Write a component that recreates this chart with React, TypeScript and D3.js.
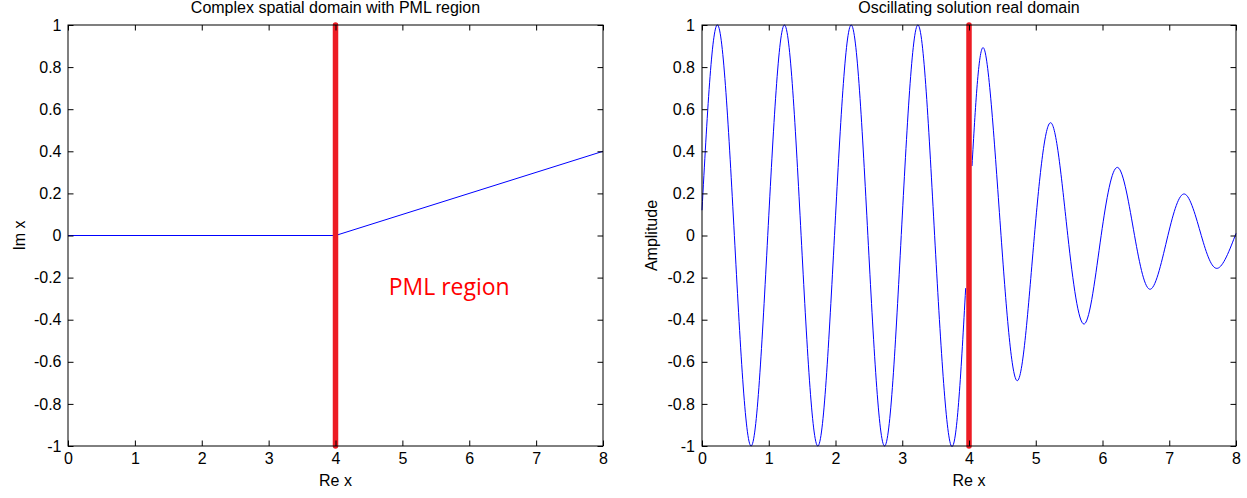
import React, { useEffect, useRef } from "react";
import * as d3 from "d3";

// ---- data ----
const xTicks = [0, 1, 2, 3, 4, 5, 6, 7, 8];
const yTicks = [-1, -0.8, -0.6, -0.4, -0.2, 0, 0.2, 0.4, 0.6, 0.8, 1];
const pmlBoundary = 4;

// left panel: complex stretched coordinate
const reX = [0, 4, 8];
const imX = [0, 0, 0.4];

// right panel: oscillating solution (extrema and zero crossings)
const freeX = [0, 0.235, 0.485, 0.735, 0.985, 1.235, 1.485, 1.735, 1.985, 2.235, 2.485, 2.735, 2.985, 3.235, 3.485, 3.735, 3.95];
const freeY = [0.12, 1, 0, -1, 0, 1, 0, -1, 0, 1, 0, -1, 0, 1, 0, -1, -0.25];
const pmlX = [4.045, 4.23, 4.48, 4.73, 4.98, 5.23, 5.48, 5.73, 5.98, 6.23, 6.48, 6.72, 6.98, 7.23, 7.48, 7.72, 8];
const pmlY = [0.33, 0.884, 0, -0.689, 0, 0.535, 0, -0.42, 0, 0.323, 0, -0.255, 0, 0.197, 0, -0.156, 0.01];

const titles = ["Complex spatial domain with PML region", "Oscillating solution real domain"];
const yLabels = ["Im x", "Amplitude"];
const xLabel = "Re x";
const pmlText = "PML region";

const FONT = "'Liberation Sans', Arial, Helvetica, sans-serif";
const TOP = 25;
const BOTTOM = 446;

function Panel({ left, right, title, ylabel, ylabelX, series, annotate, labelPad }) {
  const gx = useRef(null);
  const gy = useRef(null);
  const gxt = useRef(null);
  const gyr = useRef(null);
  const x = d3.scaleLinear().domain([0, 8]).range([left, right]);
  const y = d3.scaleLinear().domain([-1, 1]).range([BOTTOM, TOP]);
  const tl = 5.5;

  useEffect(() => {
    const style = (g) => {
      g.select(".domain").remove();
      g.selectAll("line").attr("stroke", "#000");
      g.selectAll("text").attr("font-family", FONT).attr("font-size", 16).attr("fill", "#000");
    };
    d3.select(gx.current)
      .call(d3.axisBottom(x).tickValues(xTicks).tickFormat((d) => String(d)).tickSizeInner(-tl).tickSizeOuter(0).tickPadding(7))
      .call(style);
    d3.select(gy.current)
      .call(d3.axisLeft(y).tickValues(yTicks).tickFormat((d) => String(d)).tickSizeInner(-tl).tickSizeOuter(0).tickPadding(labelPad))
      .call(style);
    d3.select(gxt.current)
      .call(d3.axisTop(x).tickValues(xTicks).tickFormat(() => "").tickSizeInner(-tl).tickSizeOuter(0))
      .call(style);
    d3.select(gyr.current)
      .call(d3.axisRight(y).tickValues(yTicks).tickFormat(() => "").tickSizeInner(-tl).tickSizeOuter(0))
      .call(style);
  });

  return (
    <g>
      <rect x={left} y={TOP} width={right - left} height={BOTTOM - TOP} fill="#fff" stroke="none" />
      {series.map((s, i) => {
        const line = d3
          .line()
          .x((d) => x(d[0]))
          .y((d) => y(d[1]))
          .curve(s.curve);
        const pts = s.xs.map((v, k) => [v, s.ys[k]]);
        return <path key={i} d={line(pts)} fill="none" stroke="#0000ff" strokeWidth={1} />;
      })}
      <line
        x1={x(pmlBoundary)}
        x2={x(pmlBoundary)}
        y1={y(1)}
        y2={y(-1)}
        stroke="#ed1c24"
        strokeWidth={5.5}
        strokeLinecap="round"
      />
      <rect x={left} y={TOP} width={right - left} height={BOTTOM - TOP} fill="none" stroke="#000" strokeWidth={1} />
      <g ref={gx} transform={`translate(0,${BOTTOM})`} />
      <g ref={gy} transform={`translate(${left},0)`} />
      <g ref={gxt} transform={`translate(0,${TOP})`} />
      <g ref={gyr} transform={`translate(${right},0)`} />
      <text x={(left + right) / 2} y={13} textAnchor="middle" fontFamily={FONT} fontSize={16} fill="#000">
        {title}
      </text>
      <text x={(left + right) / 2} y={486} textAnchor="middle" fontFamily={FONT} fontSize={16} fill="#000">
        {xLabel}
      </text>
      <text
        transform={`translate(${ylabelX},${(TOP + BOTTOM) / 2}) rotate(-90)`}
        textAnchor="middle"
        fontFamily={FONT}
        fontSize={16}
        fill="#000"
      >
        {ylabel}
      </text>
      {annotate ? (
        <text x={x(5.7)} y={295} textAnchor="middle" fontFamily="'Open Sans', 'Noto Sans', sans-serif" fontSize={23} fill="#ff0000">
          {pmlText}
        </text>
      ) : null}
    </g>
  );
}

export default function App() {
  return (
    <svg
      width={1247}
      height={498}
      style={{ position: "absolute", left: 0, top: 0, background: "#fff" }}
    >
      <rect x={0} y={0} width={1247} height={498} fill="#fff" />
      <Panel
        left={68}
        right={603}
        title={titles[0]}
        ylabel={yLabels[0]}
        ylabelX={25}
        labelPad={6.5}
        annotate={true}
        series={[{ xs: reX, ys: imX, curve: d3.curveLinear }]}
      />
      <Panel
        left={702}
        right={1236}
        title={titles[1]}
        ylabel={yLabels[1]}
        ylabelX={657}
        labelPad={7}
        annotate={false}
        series={[
          { xs: freeX, ys: freeY, curve: d3.curveNatural },
          { xs: pmlX, ys: pmlY, curve: d3.curveNatural },
        ]}
      />
    </svg>
  );
}
